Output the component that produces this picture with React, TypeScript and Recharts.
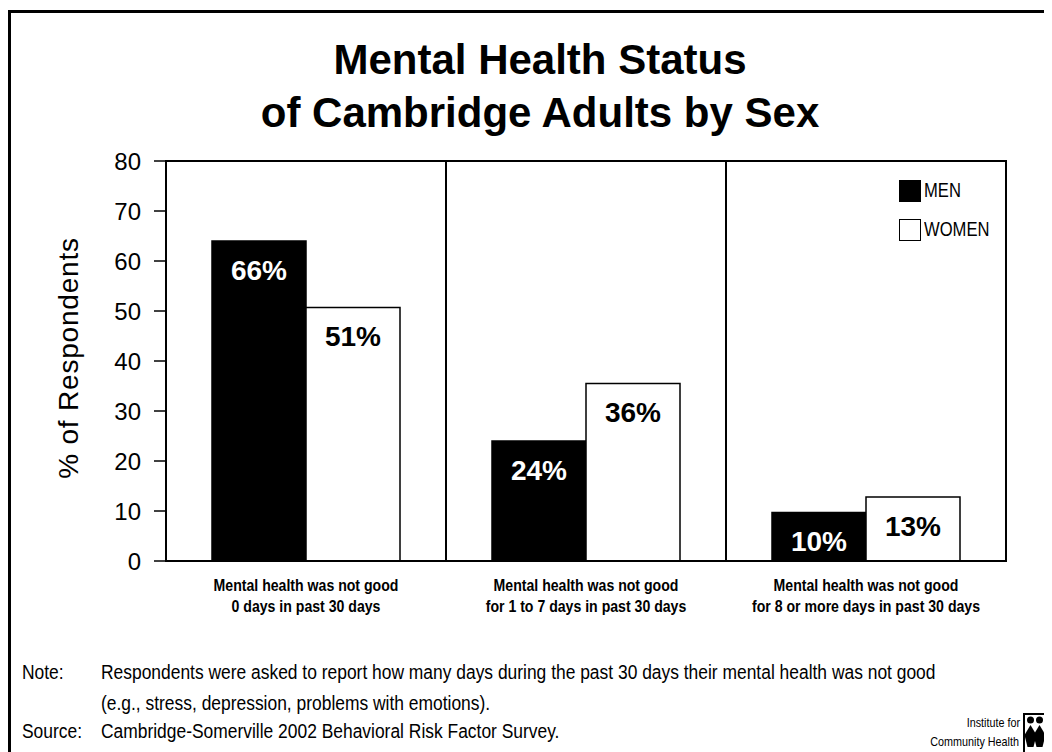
import {
  BarChart,
  Bar,
  XAxis,
  YAxis,
  Legend,
  LabelList,
  ReferenceArea
} from 'recharts'

const categories = [
  'Mental health was not good\n0 days in past 30 days',
  'Mental health was not good\nfor 1 to 7 days in past 30 days',
  'Mental health was not good\nfor 8 or more days in past 30 days'
]
const menValues = [64, 24, 9.7]
const womenValues = [50.7, 35.5, 12.8]
const menLabels = ['66%', '24%', '10%']
const womenLabels = ['51%', '36%', '13%']
const yTicks = [0, 10, 20, 30, 40, 50, 60, 70, 80]

const data = categories.map((name, i) => ({
  name,
  men: menValues[i],
  women: womenValues[i],
  menLabel: menLabels[i],
  womenLabel: womenLabels[i]
}))

const SANS = "'Liberation Sans', Arial, sans-serif"
// no Arial Narrow here, so squeeze Liberation Sans horizontally
const SQUEEZE = 0.83

function NarrowText({ x, y, anchor = 'start', size, bold, children }: any) {
  return (
    <text
      transform={`translate(${x},${y}) scale(${SQUEEZE},1)`}
      textAnchor={anchor}
      fontFamily={SANS}
      fontWeight={bold ? 'bold' : 'normal'}
      fontSize={size}
      fill="#000"
    >
      {children}
    </text>
  )
}

function CategoryTick({ x, y, payload }: any) {
  const lines = String(payload.value).split('\n')
  return (
    <g>
      {lines.map((line, i) => (
        <NarrowText key={i} x={x} y={y + 28 + i * 21} anchor="middle" size={17} bold>
          {line}
        </NarrowText>
      ))}
    </g>
  )
}

function LegendBox() {
  const items = [
    { label: 'MEN', fill: '#000' },
    { label: 'WOMEN', fill: '#fff' }
  ]
  return (
    <div>
      {items.map((it) => (
        <div key={it.label} style={{ display: 'flex', alignItems: 'center', height: 39 }}>
          <div
            style={{
              width: 20,
              height: 20,
              background: it.fill,
              border: '1.5px solid #000',
              marginRight: 3,
              flexShrink: 0
            }}
          />
          <span
            style={{
              display: 'inline-block',
              fontFamily: SANS,
              fontSize: 20,
              color: '#000',
              transform: `scaleX(${SQUEEZE})`,
              transformOrigin: 'left center',
              whiteSpace: 'nowrap'
            }}
          >
            {it.label}
          </span>
        </div>
      ))}
    </div>
  )
}

export default function App() {
  return (
    <div
      style={{
        position: 'relative',
        top: 2,
        width: 1060,
        height: 760,
        borderTop: '3px solid #000',
        borderLeft: '3px solid #000',
        background: '#fff'
      }}
    >
      <style>{'html,body{overflow:hidden;background:#fff}'}</style>

      <div
        style={{
          position: 'absolute',
          left: 0,
          top: 20,
          width: 1058,
          textAlign: 'center',
          fontFamily: SANS,
          fontWeight: 'bold',
          fontSize: 42,
          lineHeight: '53px',
          color: '#000'
        }}
      >
        <div>Mental Health Status</div>
        <div>of Cambridge Adults by Sex</div>
      </div>

      <div
        style={{
          position: 'absolute',
          left: 58,
          top: 345,
          transform: 'translate(-50%, -50%) rotate(-90deg)',
          whiteSpace: 'nowrap',
          fontFamily: SANS,
          fontSize: 28,
          letterSpacing: 0.8,
          color: '#000'
        }}
      >
        % of Respondents
      </div>

      <div style={{ position: 'absolute', left: 0, top: 0 }}>
        <BarChart
          width={1040}
          height={618}
          data={data}
          barGap={0}
          margin={{ top: 148, right: 45, left: 0, bottom: 0 }}
        >
          <XAxis
            dataKey="name"
            tickLine={false}
            tickSize={0}
            axisLine={{ stroke: '#000', strokeWidth: 2 }}
            tick={<CategoryTick />}
            height={70}
            interval={0}
          />
          <YAxis
            domain={[0, 80]}
            ticks={yTicks}
            width={155}
            tickSize={12}
            tickMargin={13}
            axisLine={{ stroke: '#000', strokeWidth: 2 }}
            tickLine={{ stroke: '#000', strokeWidth: 1.5 }}
            tick={{ fill: '#000', fontSize: 24, fontFamily: SANS }}
          />
          {/* plot frame and the two panel dividers */}
          <ReferenceArea
            x1={categories[0]}
            x2={categories[2]}
            y1={0}
            y2={80}
            fill="none"
            fillOpacity={0}
            stroke="#000"
            strokeWidth={2}
          />
          <ReferenceArea
            x1={categories[1]}
            x2={categories[1]}
            y1={0}
            y2={80}
            fill="none"
            fillOpacity={0}
            stroke="#000"
            strokeWidth={2}
          />
          <Legend
            layout="horizontal"
            verticalAlign="middle"
            align="center"
            wrapperStyle={{ left: 888, top: 158, width: 140 }}
            content={<LegendBox />}
          />
          <Bar
            dataKey="men"
            name="MEN"
            fill="#000"
            stroke="#000"
            strokeWidth={1.5}
            barSize={94}
            isAnimationActive={false}
          >
            <LabelList
              dataKey="menLabel"
              position="insideTop"
              offset={19}
              fill="#fff"
              fontSize={28}
              fontWeight="bold"
              fontFamily={SANS}
            />
          </Bar>
          <Bar
            dataKey="women"
            name="WOMEN"
            fill="#fff"
            stroke="#000"
            strokeWidth={1.5}
            barSize={94}
            isAnimationActive={false}
          >
            <LabelList
              dataKey="womenLabel"
              position="insideTop"
              offset={19}
              fill="#000"
              fontSize={28}
              fontWeight="bold"
              fontFamily={SANS}
            />
          </Bar>
        </BarChart>
      </div>

      <svg
        width={1050}
        height={745}
        style={{ position: 'absolute', left: 0, top: 0, pointerEvents: 'none' }}
      >
        <NarrowText x={11} y={666} size={21}>Note:</NarrowText>
        <NarrowText x={90} y={666} size={21}>
          Respondents were asked to report how many days during the past 30 days their mental health was not good
        </NarrowText>
        <NarrowText x={90} y={697} size={21}>
          (e.g., stress, depression, problems with emotions).
        </NarrowText>
        <NarrowText x={11} y={725} size={21}>Source:</NarrowText>
        <NarrowText x={90} y={725} size={21}>
          Cambridge-Somerville 2002 Behavioral Risk Factor Survey.
        </NarrowText>
        <NarrowText x={1009} y={714} size={13} anchor="end">Institute for</NarrowText>
        <NarrowText x={1008} y={733} size={13} anchor="end">Community Health</NarrowText>
        <g>
          <rect x={1013} y={701} width={40} height={44} fill="#fff" stroke="#000" strokeWidth={2} />
          {[1019.5, 1028.5, 1037.5].map((cx) => (
            <g key={cx}>
              <circle cx={cx} cy={707} r={3.5} fill="#000" />
              <path
                d={`M${cx} ${712} L${cx + 6} ${722} L${cx + 3} ${734} L${cx - 3} ${734} L${cx - 6} ${722} Z`}
                fill="#000"
              />
            </g>
          ))}
        </g>
      </svg>
    </div>
  )
}
